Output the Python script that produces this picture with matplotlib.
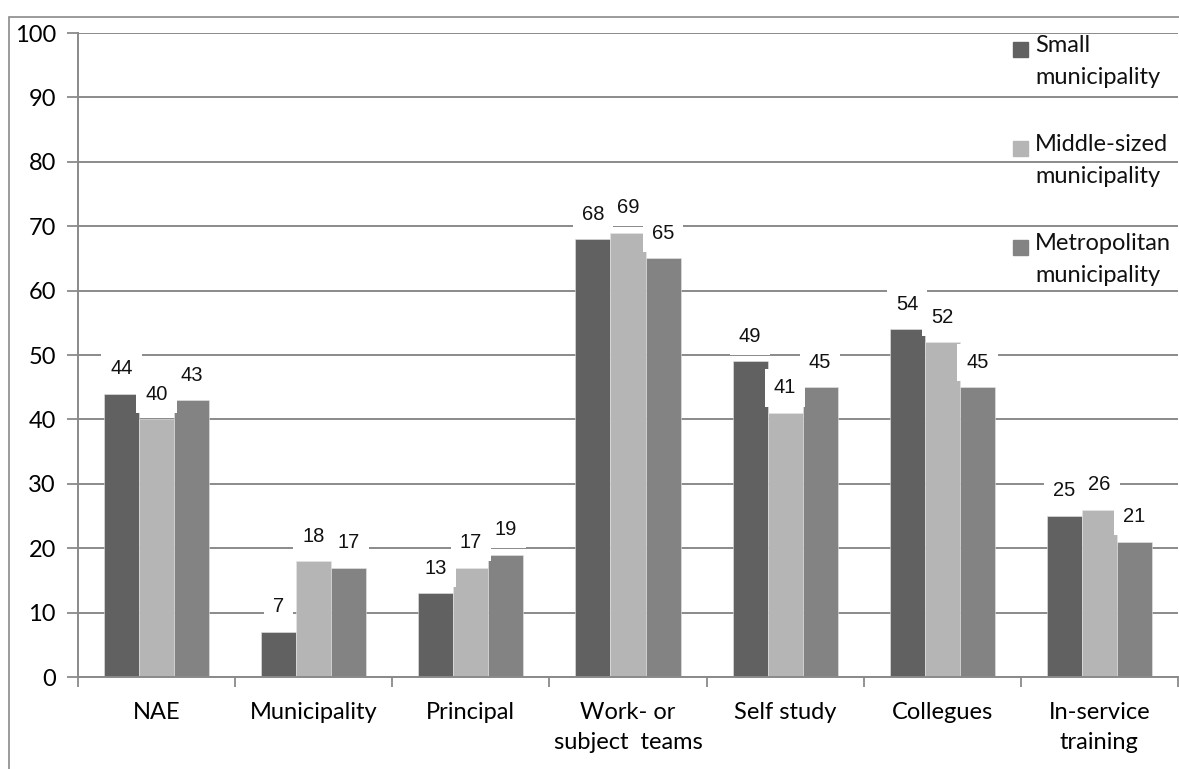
import matplotlib.pyplot as plt
import numpy as np
from matplotlib.patches import Rectangle

# data
categories = ['NAE', 'Municipality', 'Principal', 'Work- or\nsubject  teams',
              'Self study', 'Collegues', 'In-service\ntraining']
series_names = ['Small\nmunicipality', 'Middle-sized\nmunicipality', 'Metropolitan\nmunicipality']
small = [44, 7, 13, 68, 49, 54, 25]
middle = [40, 18, 17, 69, 41, 52, 26]
metro = [43, 17, 19, 65, 45, 45, 21]
colors = ['#616161', '#b5b5b5', '#838383']
yticks = list(range(0, 101, 10))

fig = plt.figure(figsize=(11.79, 7.69), dpi=100)
ax = fig.add_axes([78 / 1179, 1 - 677 / 769, 1100 / 1179, 644 / 769])

# outer chart frame (cropped on the right/bottom like the original)
fig.patches.append(Rectangle((8.5 / 1179, -0.1), 1.2, 1 - 16.5 / 769 + 0.1,
                             transform=fig.transFigure, fill=False,
                             edgecolor='#8a8a8a', linewidth=1.2))

x = np.arange(len(categories))
w = 0.223
label_font = ['Liberation Sans', 'DejaVu Sans']
for i, (vals, c) in enumerate(zip([small, middle, metro], colors)):
    bars = ax.bar(x + (i - 1) * w, vals, width=w, color=c, edgecolor='#e6e6e6',
                  linewidth=0.4, zorder=2)
    for b, v in zip(bars, vals):
        ax.annotate(str(v), (b.get_x() + b.get_width() / 2, v), xytext=(0, 18),
                    textcoords='offset points', ha='center', va='center',
                    fontsize=14.5, family=label_font, color='#111111', zorder=4,
                    bbox=dict(boxstyle='square,pad=0.45', fc='white', ec='none'))

ax.set_xlim(-0.5, len(categories) - 0.5)
ax.set_ylim(0, 100)
ax.set_yticks(yticks)
ax.yaxis.grid(True, color='#8a8a8a', linewidth=1.4, zorder=0)
ax.set_axisbelow(True)

ax.set_xticks(x)
ax.set_xticklabels(categories, fontsize=17, family=['Lato', 'DejaVu Sans'], linespacing=1.55)
ax.set_xticks(np.arange(-0.5, len(categories), 1), minor=True)
ax.tick_params(axis='x', which='major', length=0, pad=18)
ax.tick_params(axis='x', which='minor', length=7, width=1.3, color='#8a8a8a', direction='out')
ax.tick_params(axis='y', length=8, width=1.3, color='#8a8a8a', pad=8)
for t in ax.get_yticklabels():
    t.set_fontsize(17)
    t.set_family(['Lato', 'DejaVu Sans'])

for s in ['top', 'right']:
    ax.spines[s].set_visible(False)
for s in ['left', 'bottom']:
    ax.spines[s].set_color('#8a8a8a')
    ax.spines[s].set_linewidth(1.4)

# legend drawn by hand: square aligned with first text line
legend_y = [49, 148, 247]
for name, c, yp in zip(series_names, colors, legend_y):
    fig.patches.append(Rectangle((1013 / 1179, 1 - (yp + 7.5) / 769), 15 / 1179, 15 / 769,
                                 transform=fig.transFigure, color=c))
    fig.text(1035 / 1179, 1 - (yp - 14) / 769, name, fontsize=17, family=['Lato', 'DejaVu Sans'],
             va='top', ha='left', linespacing=1.65, color='#111111')

fig.savefig('out.png', dpi=100)
